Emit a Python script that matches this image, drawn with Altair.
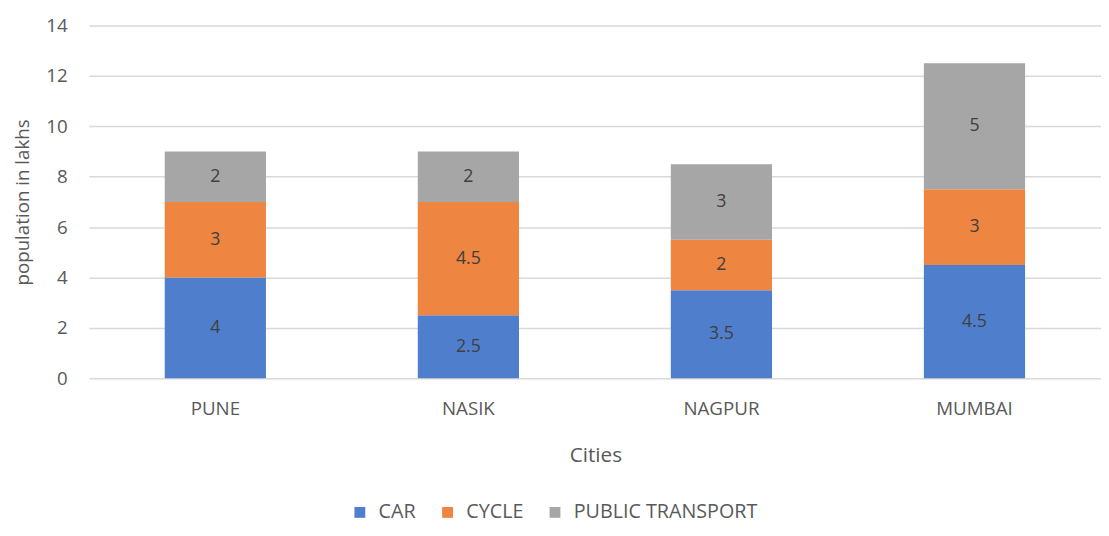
import altair as alt
import pandas as pd

cities = ["PUNE", "NASIK", "NAGPUR", "MUMBAI"]
series = ["CAR", "CYCLE", "PUBLIC TRANSPORT"]
car = [4, 2.5, 3.5, 4.5]
cycle = [3, 4.5, 2, 3]
public_transport = [2, 2, 3, 5]
colors = ["#4F7FCC", "#EE8540", "#A6A6A6"]

rows = []
for vals, s, o in [(car, "CAR", 0), (cycle, "CYCLE", 1), (public_transport, "PUBLIC TRANSPORT", 2)]:
    for c, v in zip(cities, vals):
        rows.append({"city": c, "mode": s, "value": v, "ord": o})
df = pd.DataFrame(rows)

FONT = "Open Sans"
TXT = "#595959"

base = alt.Chart(df).transform_stack(
    stack="value", groupby=["city"], as_=["y0", "y1"], sort=[alt.SortField("ord", order="ascending")]
).transform_calculate(mid="(datum.y0 + datum.y1) / 2")

xenc = alt.X(
    "city:N",
    sort=cities,
    title="Cities",
    scale=alt.Scale(range=[0, 1027], paddingInner=0.6, paddingOuter=0.3),
    axis=alt.Axis(
        labelFont=FONT, labelFontSize=19, labelColor=TXT, labelAngle=0, labelPadding=22,
        titleFont=FONT, titleFontSize=21, titleColor=TXT, titleFontWeight="normal",
        titlePadding=26, domain=False, ticks=False, grid=False, titleX=514,
    ),
)

bars = base.mark_bar().encode(
    x=xenc,
    y=alt.Y(
        "y0:Q",
        scale=alt.Scale(domain=[0, 14]),
        title="population in lakhs",
        axis=alt.Axis(
            values=list(range(0, 15, 2)), labelFont=FONT, labelFontSize=19, labelColor=TXT,
            titleFont=FONT, titleFontSize=19, titleColor=TXT, titleFontWeight="normal",
            gridColor="#D9D9D9", gridWidth=1.5, domain=False, ticks=False, labelPadding=22, titlePadding=13,
        ),
    ),
    y2="y1:Q",
    color=alt.Color(
        "mode:N",
        scale=alt.Scale(domain=series, range=colors),
        legend=alt.Legend(
            title=None, orient="none", direction="horizontal", legendX=265, legendY=484,
            labelFont=FONT, labelFontSize=20, labelColor=TXT, labelLimit=400, symbolType="square",
            symbolSize=121, symbolStrokeWidth=0, columnPadding=22, labelOffset=9, padding=0,
        ),
    ),
)

labels = base.mark_text(font=FONT, fontSize=18, color="#404040").encode(
    x=alt.X("city:N", sort=cities),
    y=alt.Y("mid:Q"),
    text=alt.Text("value:Q"),
)

chart = (bars + labels).properties(
    width=1005, height=358, padding={"left": 6, "top": 5, "right": 0, "bottom": 0}
).configure(background="white").configure_view(stroke=None)

chart.save("out.html", embed_options={"renderer": "svg", "actions": False})
